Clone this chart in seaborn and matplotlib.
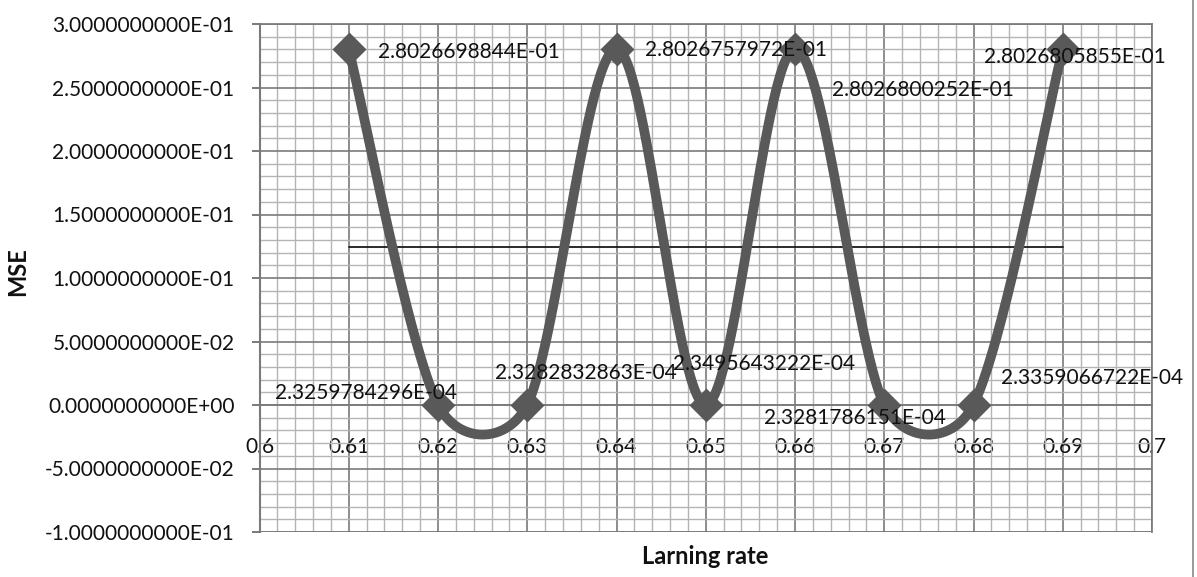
import numpy as np
import pandas as pd
import matplotlib
matplotlib.use("Agg")
import matplotlib.pyplot as plt
import seaborn as sns
from matplotlib.ticker import MultipleLocator, FixedLocator, FuncFormatter
from matplotlib.lines import Line2D

# ---------------- data ----------------
learning_rate = [0.61, 0.62, 0.63, 0.64, 0.65, 0.66, 0.67, 0.68, 0.69]
mse = [2.8026698844e-01, 2.3259784296e-04, 2.3282832863e-04, 2.8026757972e-01,
       2.3495643222e-04, 2.8026800252e-01, 2.3281786151e-04, 2.3359066722e-04,
       2.8026805855e-01]
point_labels = ["2.8026698844E-01", "2.3259784296E-04", "2.3282832863E-04",
                "2.8026757972E-01", "2.3495643222E-04", "2.8026800252E-01",
                "2.3281786151E-04", "2.3359066722E-04", "2.8026805855E-01"]
x_ticks = [0.60, 0.61, 0.62, 0.63, 0.64, 0.65, 0.66, 0.67, 0.68, 0.69, 0.70]
x_tick_labels = ["0.6", "0.61", "0.62", "0.63", "0.64", "0.65", "0.66",
                 "0.67", "0.68", "0.69", "0.7"]
y_ticks = [-0.10, -0.05, 0.0, 0.05, 0.10, 0.15, 0.20, 0.25, 0.30]

# label offsets in pixels (dx, dy up) relative to each point -- layout only
label_offsets_px = [(29, -3), (-163, 12), (-32, 32), (28, -1), (-33, 41),
                    (37, -41), (-120, -13), (27, 27), (-79, -8)]

# ---------------- style ----------------
sns.set_theme(style="white")
plt.rcParams['font.family'] = ['Lato', 'DejaVu Sans']

W, H, DPI = 1197, 577, 100
fig = plt.figure(figsize=(W / DPI, H / DPI), dpi=DPI)
L, R, T, B = 259.5, 1152, 24, 532
ax = fig.add_axes([L / W, 1 - B / H, (R - L) / W, (B - T) / H])

xmin, xmax, ymin, ymax = 0.6, 0.7, -0.1, 0.3
ax.set_xlim(xmin, xmax)
ax.set_ylim(ymin, ymax)

# Excel-like smoothed curve (Bezier through the points) in pixel-proportional space
sx = (R - L) / (xmax - xmin)
sy = (B - T) / (ymax - ymin)
P = np.column_stack([np.array(learning_rate) * sx, np.array(mse) * sy])
n = len(P)
curve = []
for i in range(n - 1):
    p0 = P[i - 1] if i > 0 else P[i]
    p1 = P[i]
    p2 = P[i + 1]
    p3 = P[i + 2] if i + 2 < n else P[i + 1]
    d12 = np.linalg.norm(p2 - p1)
    d02 = np.linalg.norm(p2 - p0)
    d13 = np.linalg.norm(p3 - p1)
    f = min(1 / 6, d12 / (2 * d02)) if d02 > 0 else 1 / 6
    g = min(1 / 6, d12 / (2 * d13)) if d13 > 0 else 1 / 6
    c1 = p1 + f * (p2 - p0)
    c2 = p2 - g * (p3 - p1)
    t = np.linspace(0, 1, 60)[:, None]
    seg = ((1 - t) ** 3) * p1 + 3 * ((1 - t) ** 2) * t * c1 + 3 * (1 - t) * t ** 2 * c2 + t ** 3 * p2
    curve.append(seg if i == 0 else seg[1:])
curve = np.vstack(curve)
curve_df = pd.DataFrame({"x": curve[:, 0] / sx, "y": curve[:, 1] / sy})
pts_df = pd.DataFrame({"x": learning_rate, "y": mse})

# grid
ax.xaxis.set_minor_locator(MultipleLocator(0.002))
ax.yaxis.set_minor_locator(MultipleLocator(0.01))
ax.set_axisbelow(True)
ax.grid(which='minor', color='#b4b4b4', linewidth=1.0)
ax.grid(which='major', color='#7a7a7a', linewidth=1.2)

# mean line
mean_val = float(np.mean(mse))
sns.lineplot(x=[learning_rate[0], learning_rate[-1]], y=[mean_val, mean_val],
             ax=ax, color='#1a1a1a', linewidth=1.3, zorder=3)

# curve + markers
sns.lineplot(data=curve_df, x="x", y="y", sort=False, ax=ax, color='#595959',
             linewidth=7, zorder=4, solid_capstyle='round')
sns.scatterplot(data=pts_df, x="x", y="y", ax=ax, marker='D', s=300,
                color='#595959', edgecolor='#595959', linewidth=0, zorder=5)

# data labels
for xv, yv, lab, (dx, dy) in zip(learning_rate, mse, point_labels, label_offsets_px):
    ax.annotate(lab, (xv, yv), xytext=(dx * 72 / DPI, dy * 72 / DPI),
                textcoords='offset points', ha='left', va='center',
                fontsize=15, color='#111111', zorder=6, annotation_clip=False)

# axes: x axis crosses at 0
for s in ['top', 'right']:
    ax.spines[s].set_visible(True)
    ax.spines[s].set_color('#7a7a7a')
ax.spines['left'].set_color('#7a7a7a')
ax.spines['left'].set_linewidth(1.5)
ax.spines['bottom'].set_position(('data', 0.0))
ax.spines['bottom'].set_color('#7a7a7a')
ax.spines['bottom'].set_linewidth(1.2)

# frame bottom edge (plot area border)
ax.add_line(Line2D([0, 1], [0, 0], transform=ax.transAxes, color='#7a7a7a', linewidth=1.2))

ax.xaxis.set_major_locator(FixedLocator(x_ticks))
ax.set_xticklabels(x_tick_labels)
ax.yaxis.set_major_locator(FixedLocator(y_ticks))
ax.yaxis.set_major_formatter(FuncFormatter(lambda v, p: f"{v:.10E}"))
ax.tick_params(axis='x', which='both', length=0, pad=23, labelsize=15, labelcolor='#111111')
ax.tick_params(axis='y', which='major', direction='out', length=6, width=1.4,
               color='#7a7a7a', pad=12, labelsize=15, labelcolor='#111111', left=True)
ax.tick_params(axis='y', which='minor', length=0)
ax.set_xlabel("")
ax.set_ylabel("")

fig.text(18 / W, 1 - 272 / H, "MSE", rotation=90, ha='center', va='center',
         fontsize=17, fontweight='bold', color='#111111')
fig.text(705 / W, 1 - 556 / H, "Larning rate", ha='center', va='center',
         fontsize=17, fontweight='bold', color='#111111')

# chart-area right border
fig.add_artist(Line2D([1193 / W, 1193 / W], [0, 1], transform=fig.transFigure,
                      color='#888888', linewidth=1.2))

fig.savefig("out.png", dpi=DPI)
